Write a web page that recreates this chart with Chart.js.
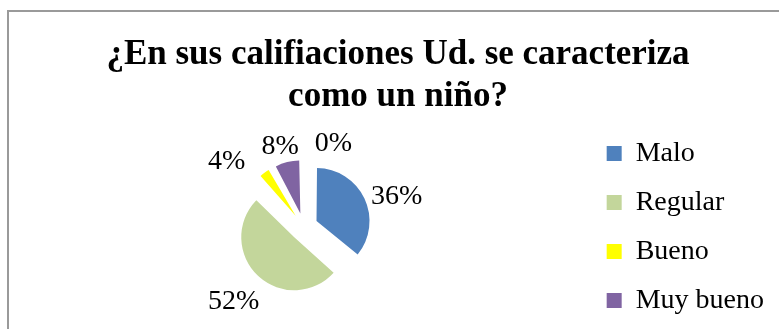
<!DOCTYPE html>
<html>
<head>
<meta charset="utf-8">
<script src="https://cdn.jsdelivr.net/npm/chart.js@4.4.1/dist/chart.umd.min.js"></script>
<style>
  html, body { margin: 0; padding: 0; background: #fff; overflow: hidden; }
  #wrap { position: relative; width: 779px; height: 329px; overflow: hidden; }
</style>
</head>
<body>
<div id="wrap"><canvas id="ninoPie" width="779" height="336"></canvas></div>
<script>
// --- data ---
const titleLines = ['¿En sus califiaciones Ud. se caracteriza', 'como un niño?'];
const categories = ['Malo', 'Regular', 'Bueno', 'Muy bueno', 'Excelente'];
const percentages = [36, 52, 4, 8, 0];
const sliceColors = ['#4F81BD', '#C3D69B', '#FFFF00', '#8064A2', '#4BACC6'];

const serif = "'Liberation Serif', 'Times New Roman', serif";

// grey frame of the original (cut at right and bottom)
const framePlugin = {
    id: 'frame',
    beforeDraw(chart) {
        const ctx = chart.ctx;
        ctx.save();
        ctx.strokeStyle = '#9a9a9a';
        ctx.lineWidth = 2;
        ctx.beginPath();
        ctx.moveTo(8, chart.height);
        ctx.lineTo(8, 11);
        ctx.lineTo(chart.width, 11);
        ctx.stroke();
        ctx.restore();
    }
};

// Chart.js grows the radius of exploded slices; keep every slice the same size like Excel does
const evenExplode = {
    id: 'evenExplode',
    beforeDatasetsDraw(chart) {
        const meta = chart.getDatasetMeta(0);
        const base = meta.controller.outerRadius;
        meta.data.forEach(arc => {
            const fix = 1 - Math.sin(Math.min(Math.PI, arc.circumference || 0));
            arc.outerRadius = base - ((arc.options.offset || 0) / 4) * fix;
        });
    }
};

// percentage labels outside each slice; a smaller slice's label gives way on collision
const percentLabels = {
    id: 'percentLabels',
    afterDatasetsDraw(chart, args, opts) {
        const ctx = chart.ctx;
        const meta = chart.getDatasetMeta(0);
        const values = chart.data.datasets[0].data;
        const base = meta.controller.outerRadius;
        ctx.save();
        ctx.font = opts.size + 'px ' + serif;
        const boxes = meta.data.map((arc, i) => {
            const p = arc.getProps(['x', 'y', 'startAngle', 'endAngle'], true);
            const mid = (p.startAngle + p.endAngle) / 2;
            const cos = Math.cos(mid), sin = Math.sin(mid);
            const r = base + (arc.options.offset || 0) / 4 + opts.distance;
            const text = values[i] + '%';
            const w = ctx.measureText(text).width;
            const h = opts.size;
            return {
                text, w, h, value: values[i],
                x: p.x + cos * (r + w / 2),
                y: p.y + sin * (r + h / 2) + opts.dropY
            };
        });
        for (let pass = 0; pass < 10; pass++) {
            for (let a = 0; a < boxes.length; a++) {
                for (let b = a + 1; b < boxes.length; b++) {
                    const A = boxes[a], B = boxes[b];
                    const need = (A.w + B.w) / 2 + opts.avoidGap - Math.abs(B.x - A.x);
                    if (need > 0 && Math.abs(B.y - A.y) < (A.h + B.h) / 2) {
                        const dir = B.x >= A.x ? 1 : -1;
                        if (B.value <= A.value) B.x += dir * need;
                        else A.x -= dir * need;
                    }
                }
            }
        }
        ctx.fillStyle = opts.color;
        ctx.textAlign = 'center';
        ctx.textBaseline = 'middle';
        boxes.forEach(b => ctx.fillText(b.text, b.x, b.y));
        ctx.restore();
    }
};

new Chart(document.getElementById('ninoPie'), {
    type: 'pie',
    data: {
        labels: categories,
        datasets: [{
            data: percentages,
            backgroundColor: sliceColors,
            borderWidth: 0,
            offset: 56
        }]
    },
    options: {
        responsive: false,
        animation: false,
        devicePixelRatio: 1,
        radius: 53,
        layout: { padding: { left: 22, right: 5, top: 0, bottom: 0 } },
        plugins: {
            title: {
                display: true,
                text: titleLines,
                color: '#000',
                font: { family: serif, size: 35, weight: 'bold', lineHeight: 1.2 },
                padding: { top: 34, bottom: 0 }
            },
            legend: {
                position: 'right',
                fullSize: false,
                labels: {
                    color: '#000',
                    font: { family: serif, size: 28 },
                    boxWidth: 15,
                    boxHeight: 15,
                    padding: 21,
                    filter: (item, data) => data.datasets[0].data[item.index] > 0
                }
            },
            tooltip: { enabled: false },
            percentLabels: { size: 28, color: '#000', distance: 10, dropY: 8, avoidGap: 16 }
        }
    },
    plugins: [framePlugin, evenExplode, percentLabels]
});
</script>
</body>
</html>
